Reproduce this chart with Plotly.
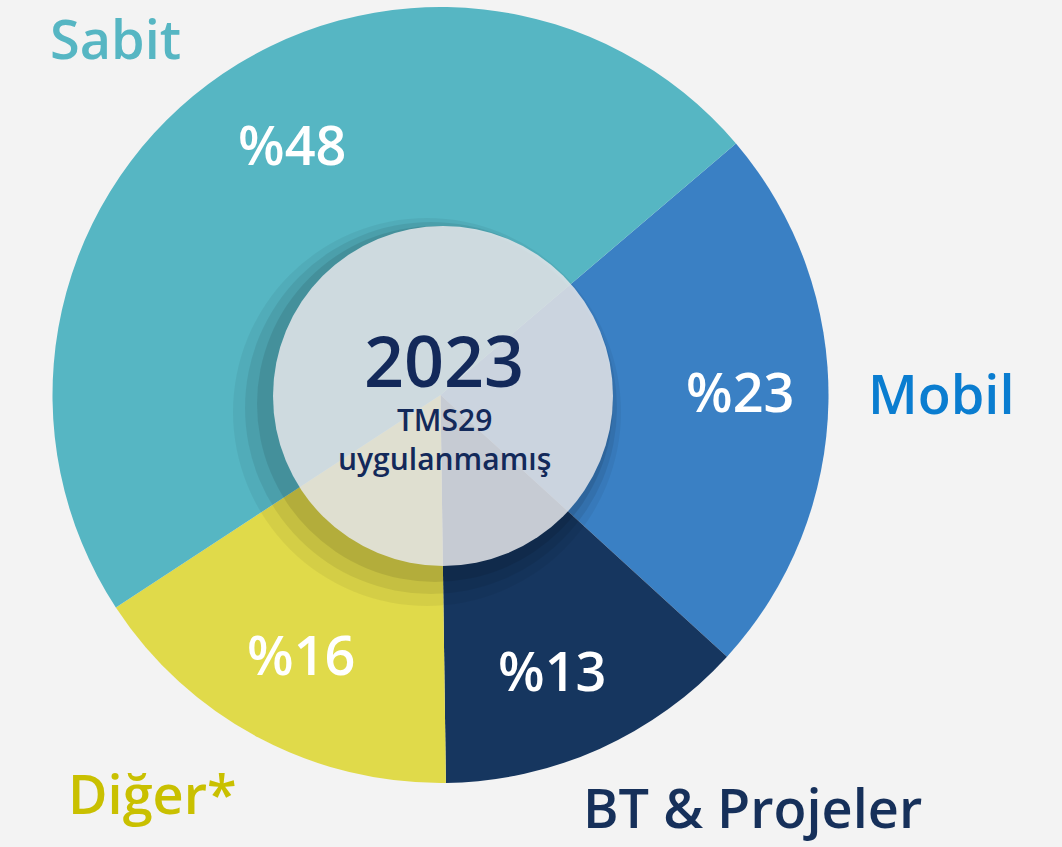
import plotly.graph_objects as go

# ---- data ----
categories = ["Mobil", "BT & Projeler", "Diğer*", "Sabit"]
values = [23, 13, 16, 48]
value_labels = ["%23", "%13", "%16", "%48"]
center_title = "2023"
center_sub = ["TMS29", "uygulanmamış"]

# ---- styles / layout positions (pixels from top-left) ----
W, H = 1062, 847
slice_colors = ["#3a80c4", "#16365f", "#e0da4a", "#56b6c3"]
label_colors = ["#0a7dd0", "#16305a", "#c9c000", "#56b6c3"]
FONT = "Open Sans"
CX, CY, R = 440.5, 395.0, 388.0  # pie geometry
ROT = 49.6
inside_pos = {"Mobil": (740, 391), "BT & Projeler": (552, 670), "Diğer*": (301, 654), "Sabit": (292, 144)}
outside_pos = {"Mobil": (941, 393), "BT & Projeler": (752, 807), "Diğer*": (152, 793), "Sabit": (115, 38)}


def px2paper(x, y):
    return x / W, 1 - y / H


fig = go.Figure()
fig.add_trace(go.Pie(
    labels=categories, values=values, sort=False, direction="clockwise",
    rotation=ROT, hole=0, textinfo="none", hoverinfo="label+value",
    marker=dict(colors=slice_colors, line=dict(width=0)),
    domain=dict(x=[(CX - R) / W, (CX + R) / W], y=[1 - (CY + R) / H, 1 - (CY - R) / H]),
    showlegend=False,
))

annotations = []
for cat, t in zip(categories, value_labels):
    x, y = px2paper(*inside_pos[cat])
    annotations.append(dict(x=x, y=y, xref="paper", yref="paper", text=t, showarrow=False,
                            font=dict(family=FONT, size=54, color="white", weight=600),
                            xanchor="center", yanchor="middle"))

for cat, col in zip(categories, label_colors):
    x, y = px2paper(*outside_pos[cat])
    annotations.append(dict(x=x, y=y, xref="paper", yref="paper", text=cat, showarrow=False,
                            font=dict(family=FONT, size=54, color=col, weight=600),
                            xanchor="center", yanchor="middle"))

x, y = px2paper(444, 360)
annotations.append(dict(x=x, y=y, xref="paper", yref="paper", text=center_title, showarrow=False,
                        font=dict(family=FONT, size=70, color="#13295a", weight=600),
                        xanchor="center", yanchor="middle"))
x, y = px2paper(444, 439)
annotations.append(dict(x=x, y=y, xref="paper", yref="paper", text="<br>".join(center_sub), showarrow=False,
                        font=dict(family=FONT, size=30, color="#13295a", weight=600),
                        xanchor="center", yanchor="middle", align="center"))

shapes = []
ccx, ccy, cr = 443, 396, 170
for dx, dy, extra, alpha in [(-16, 16, 24, 0.05), (-12, 12, 16, 0.07), (-8, 8, 8, 0.09)]:
    x0, y0 = px2paper(ccx + dx - cr - extra, ccy + dy + cr + extra)
    x1, y1 = px2paper(ccx + dx + cr + extra, ccy + dy - cr - extra)
    shapes.append(dict(type="circle", xref="paper", yref="paper", x0=x0, y0=y0, x1=x1, y1=y1,
                       fillcolor=f"rgba(0,0,0,{alpha})", line=dict(width=0), layer="above"))
x0, y0 = px2paper(ccx - cr, ccy + cr)
x1, y1 = px2paper(ccx + cr, ccy - cr)
shapes.append(dict(type="circle", xref="paper", yref="paper", x0=x0, y0=y0, x1=x1, y1=y1,
                   fillcolor="rgba(230,231,235,0.85)", line=dict(width=0), layer="above"))

fig.update_layout(
    width=W, height=H, margin=dict(l=0, r=0, t=0, b=0),
    paper_bgcolor="#f3f3f3", plot_bgcolor="#f3f3f3",
    annotations=annotations, shapes=shapes,
)
fig.write_html(
    "out.html",
    config={"displayModeBar": False},
    post_script="document.body.style.margin='0';document.body.style.overflow='hidden';",
)
